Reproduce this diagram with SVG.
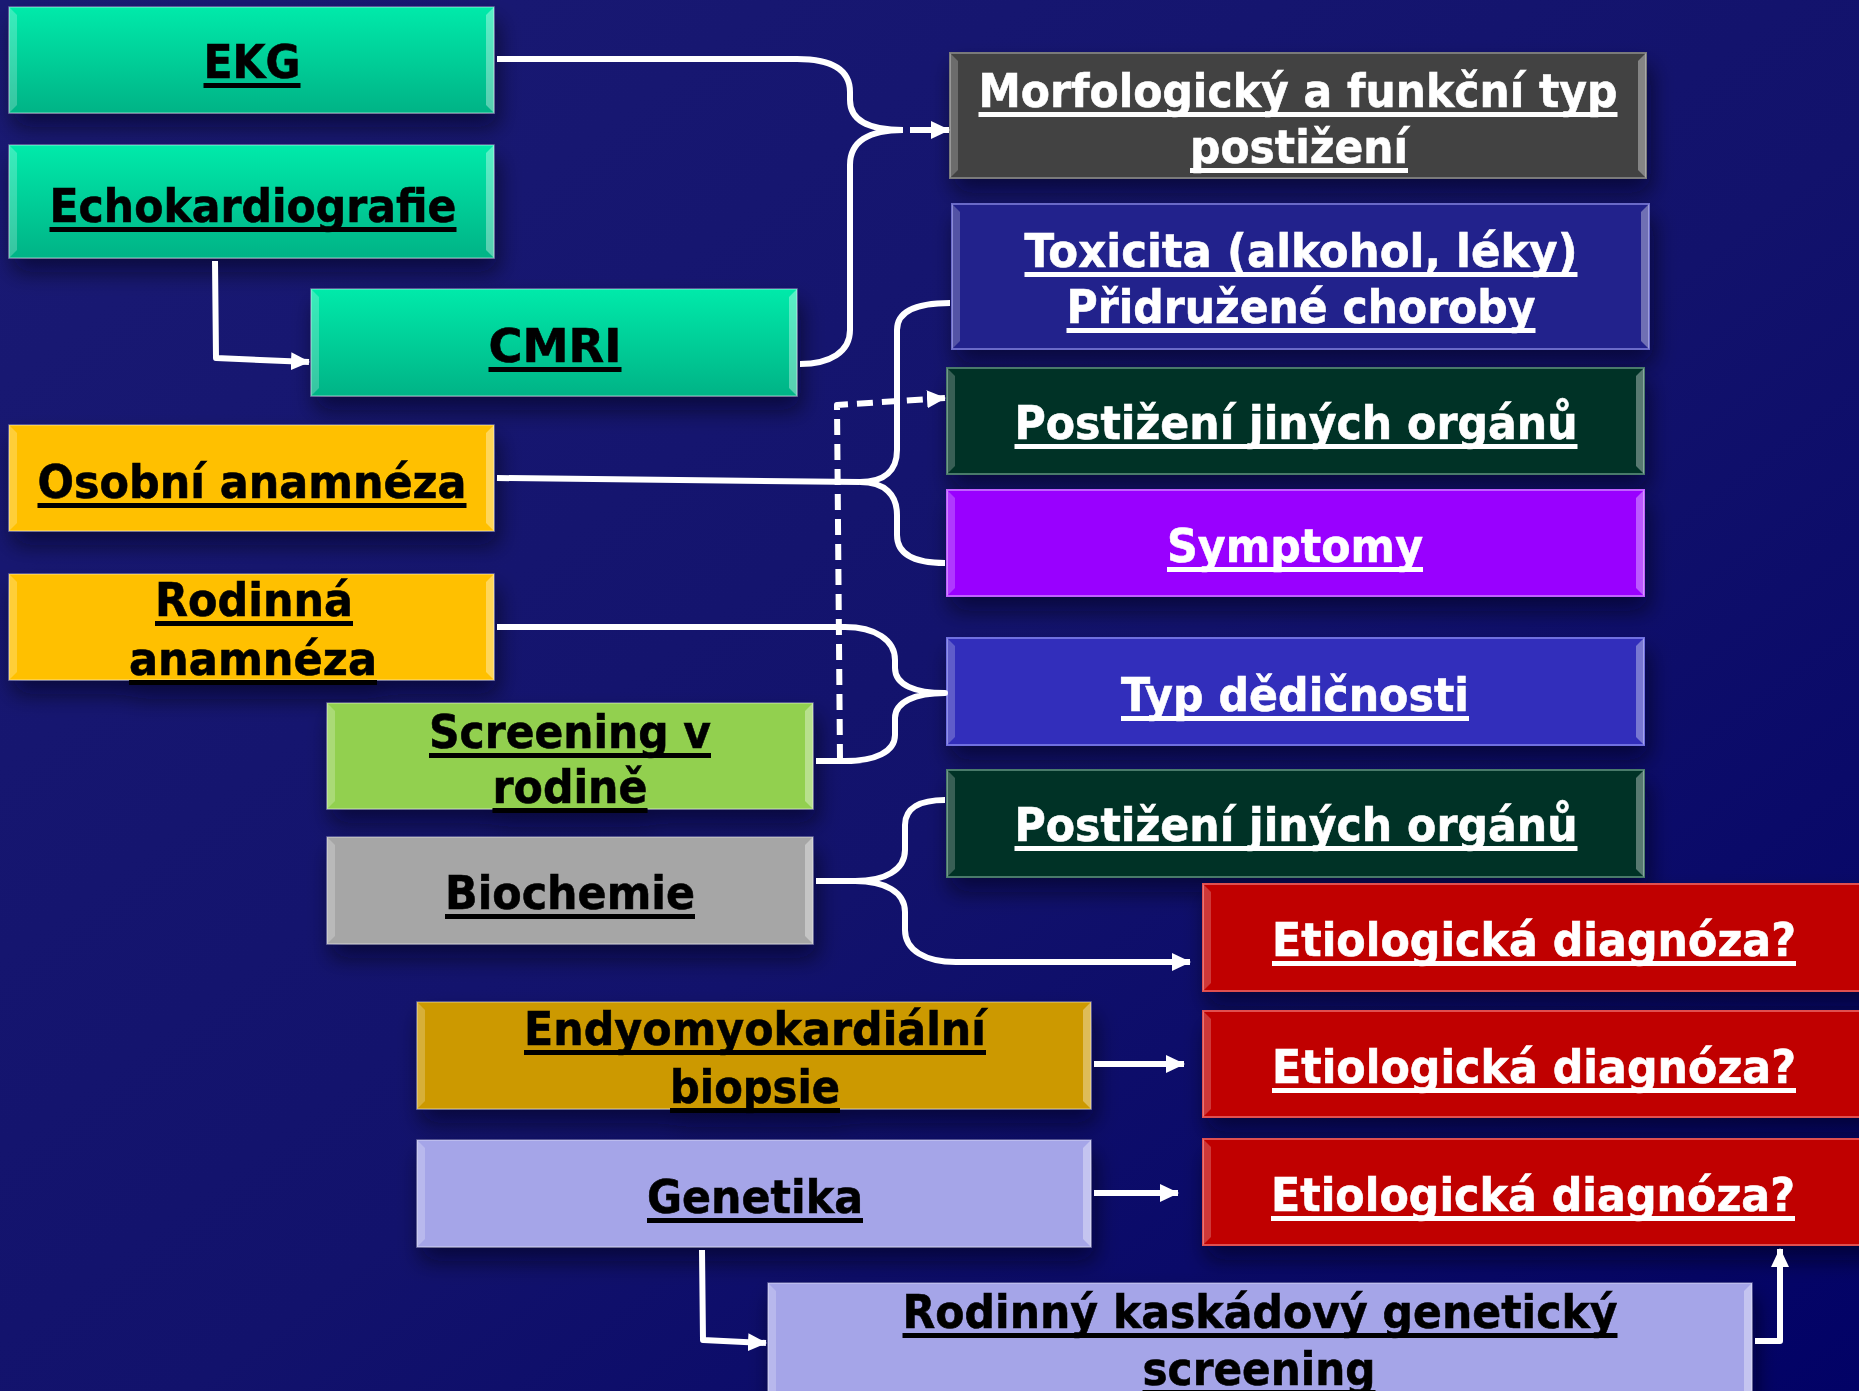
<svg xmlns="http://www.w3.org/2000/svg" width="1859" height="1391" viewBox="0 0 1859 1391">
<defs>
<linearGradient id="bg" x1="0" y1="0" x2="1" y2="1">
<stop offset="0" stop-color="#1a1a74"/>
<stop offset="0.55" stop-color="#12126c"/>
<stop offset="1" stop-color="#020266"/>
</linearGradient>
<linearGradient id="gTeal" x1="0" y1="0" x2="0" y2="1">
<stop offset="0" stop-color="#00eaaa"/>
<stop offset="1" stop-color="#00b386"/>
</linearGradient>
<filter id="sh" x="-10%" y="-20%" width="125%" height="160%">
<feDropShadow dx="4" dy="14" stdDeviation="11" flood-color="#000018" flood-opacity="0.55"/>
</filter>
<marker id="ah" markerUnits="userSpaceOnUse" markerWidth="20" markerHeight="20" refX="18" refY="10" orient="auto">
<path d="M0,1 L19,10 L0,19 z" fill="#ffffff"/>
</marker>
<style>
.box{stroke:rgba(255,255,255,0.35);stroke-width:1.5;}
.bl{fill:#ffffff;fill-opacity:0.22;}
.br{fill:#ffffff;fill-opacity:0.35;}
text{font-family:"DejaVu Sans","Verdana",sans-serif;font-weight:bold;font-size:47px;text-anchor:middle;stroke-width:0.6;}
.tb{fill:#000000;stroke:#000000;}
.tw{fill:#ffffff;stroke:#ffffff;}
.ub{fill:#000000;}
.uw{fill:#ffffff;}
.con{fill:none;stroke:#ffffff;stroke-width:6;stroke-linejoin:round;}
.dash{stroke-dasharray:16 9;}
</style>
</defs>
<rect x="0" y="0" width="1859" height="1391" fill="url(#bg)"/>

<g id="n-ekg" filter="url(#sh)">
<rect class="box" x="9" y="7" width="485" height="106" fill="url(#gTeal)"/>
<polygon class="bl" points="9,7 17,15 17,105 9,113"/>
<polygon class="br" points="494,7 486,15 486,105 494,113"/>
<text class="tb" x="252" y="78" textLength="97" lengthAdjust="spacingAndGlyphs">EKG</text>
<rect class="ub" x="203.5" y="83" width="97" height="5"/>
</g>
<g id="n-echo" filter="url(#sh)">
<rect class="box" x="9" y="145" width="485" height="113" fill="url(#gTeal)"/>
<polygon class="bl" points="9,145 17,153 17,250 9,258"/>
<polygon class="br" points="494,145 486,153 486,250 494,258"/>
<text class="tb" x="253" y="222" textLength="407" lengthAdjust="spacingAndGlyphs">Echokardiografie</text>
<rect class="ub" x="49.5" y="227" width="407" height="5"/>
</g>
<g id="n-cmri" filter="url(#sh)">
<rect class="box" x="311" y="289" width="486" height="107" fill="url(#gTeal)"/>
<polygon class="bl" points="311,289 319,297 319,388 311,396"/>
<polygon class="br" points="797,289 789,297 789,388 797,396"/>
<text class="tb" x="555" y="362" textLength="133" lengthAdjust="spacingAndGlyphs">CMRI</text>
<rect class="ub" x="488.5" y="367" width="133" height="5"/>
</g>
<g id="n-morf" filter="url(#sh)">
<rect class="box" x="950" y="53" width="696" height="125" fill="#434343" style="stroke:#7a7a7a;stroke-width:2"/>
<polygon class="bl" points="950,53 958,61 958,170 950,178"/>
<polygon class="br" points="1646,53 1638,61 1638,170 1646,178"/>
<text class="tw" x="1298" y="107" textLength="639" lengthAdjust="spacingAndGlyphs">Morfologický a funkční typ</text>
<rect class="uw" x="978.5" y="112" width="639" height="5"/>
<text class="tw" x="1299" y="163" textLength="218" lengthAdjust="spacingAndGlyphs">postižení</text>
<rect class="uw" x="1190" y="168" width="218" height="5"/>
</g>
<g id="n-tox" filter="url(#sh)">
<rect class="box" x="952" y="204" width="697" height="145" fill="#23238c" style="stroke:#6a6ac8;stroke-width:2"/>
<polygon class="bl" points="952,204 960,212 960,341 952,349"/>
<polygon class="br" points="1649,204 1641,212 1641,341 1649,349"/>
<text class="tw" x="1301" y="267" textLength="553" lengthAdjust="spacingAndGlyphs">Toxicita (alkohol, léky)</text>
<rect class="uw" x="1024.5" y="272" width="553" height="5"/>
<text class="tw" x="1301" y="323" textLength="469" lengthAdjust="spacingAndGlyphs">Přidružené choroby</text>
<rect class="uw" x="1066.5" y="328" width="469" height="5"/>
</g>
<g id="n-post1" filter="url(#sh)">
<rect class="box" x="947" y="368" width="697" height="106" fill="#003226" style="stroke:#4a7a6a;stroke-width:2"/>
<polygon class="bl" points="947,368 955,376 955,466 947,474"/>
<polygon class="br" points="1644,368 1636,376 1636,466 1644,474"/>
<text class="tw" x="1296" y="439" textLength="563" lengthAdjust="spacingAndGlyphs">Postižení jiných orgánů</text>
<rect class="uw" x="1014.5" y="444" width="563" height="5"/>
</g>
<g id="n-symp" filter="url(#sh)">
<rect class="box" x="947" y="490" width="697" height="106" fill="#9900ff" style="stroke:#c060ff;stroke-width:2"/>
<polygon class="bl" points="947,490 955,498 955,588 947,596"/>
<polygon class="br" points="1644,490 1636,498 1636,588 1644,596"/>
<text class="tw" x="1295" y="562" textLength="256" lengthAdjust="spacingAndGlyphs">Symptomy</text>
<rect class="uw" x="1167" y="567" width="256" height="5"/>
</g>
<g id="n-typ" filter="url(#sh)">
<rect class="box" x="947" y="638" width="697" height="107" fill="#312fbb" style="stroke:#7070e0;stroke-width:2"/>
<polygon class="bl" points="947,638 955,646 955,737 947,745"/>
<polygon class="br" points="1644,638 1636,646 1636,737 1644,745"/>
<text class="tw" x="1295" y="711" textLength="348" lengthAdjust="spacingAndGlyphs">Typ dědičnosti</text>
<rect class="uw" x="1121" y="716" width="348" height="5"/>
</g>
<g id="n-post2" filter="url(#sh)">
<rect class="box" x="947" y="770" width="697" height="107" fill="#003226" style="stroke:#4a7a6a;stroke-width:2"/>
<polygon class="bl" points="947,770 955,778 955,869 947,877"/>
<polygon class="br" points="1644,770 1636,778 1636,869 1644,877"/>
<text class="tw" x="1296" y="841" textLength="563" lengthAdjust="spacingAndGlyphs">Postižení jiných orgánů</text>
<rect class="uw" x="1014.5" y="846" width="563" height="5"/>
</g>
<g id="n-etio1" filter="url(#sh)">
<rect class="box" x="1203" y="884" width="690" height="107" fill="#c00000" style="stroke:#e05050;stroke-width:2"/>
<polygon class="bl" points="1203,884 1211,892 1211,983 1203,991"/>
<text class="tw" x="1534" y="956" textLength="524" lengthAdjust="spacingAndGlyphs">Etiologická diagnóza?</text>
<rect class="uw" x="1272" y="961" width="524" height="5"/>
</g>
<g id="n-etio2" filter="url(#sh)">
<rect class="box" x="1203" y="1011" width="690" height="106" fill="#c00000" style="stroke:#e05050;stroke-width:2"/>
<polygon class="bl" points="1203,1011 1211,1019 1211,1109 1203,1117"/>
<text class="tw" x="1534" y="1083" textLength="524" lengthAdjust="spacingAndGlyphs">Etiologická diagnóza?</text>
<rect class="uw" x="1272" y="1088" width="524" height="5"/>
</g>
<g id="n-etio3" filter="url(#sh)">
<rect class="box" x="1203" y="1139" width="690" height="106" fill="#c00000" style="stroke:#e05050;stroke-width:2"/>
<polygon class="bl" points="1203,1139 1211,1147 1211,1237 1203,1245"/>
<text class="tw" x="1533" y="1211" textLength="524" lengthAdjust="spacingAndGlyphs">Etiologická diagnóza?</text>
<rect class="uw" x="1271" y="1216" width="524" height="5"/>
</g>
<g id="n-osob" filter="url(#sh)">
<rect class="box" x="9" y="425" width="485" height="106" fill="#ffc000"/>
<polygon class="bl" points="9,425 17,433 17,523 9,531"/>
<polygon class="br" points="494,425 486,433 486,523 494,531"/>
<text class="tb" x="252" y="498" textLength="429" lengthAdjust="spacingAndGlyphs">Osobní anamnéza</text>
<rect class="ub" x="37.5" y="503" width="429" height="5"/>
</g>
<g id="n-roda" filter="url(#sh)">
<rect class="box" x="9" y="574" width="485" height="106" fill="#ffc000"/>
<polygon class="bl" points="9,574 17,582 17,672 9,680"/>
<polygon class="br" points="494,574 486,582 486,672 494,680"/>
<text class="tb" x="254" y="616" textLength="198" lengthAdjust="spacingAndGlyphs">Rodinná</text>
<rect class="ub" x="155" y="621" width="198" height="5"/>
<text class="tb" x="253" y="675" textLength="248" lengthAdjust="spacingAndGlyphs">anamnéza</text>
<rect class="ub" x="129" y="680" width="248" height="5"/>
</g>
<g id="n-scr" filter="url(#sh)">
<rect class="box" x="327" y="703" width="486" height="106" fill="#92d050"/>
<polygon class="bl" points="327,703 335,711 335,801 327,809"/>
<polygon class="br" points="813,703 805,711 805,801 813,809"/>
<text class="tb" x="570" y="748" textLength="282" lengthAdjust="spacingAndGlyphs">Screening v</text>
<rect class="ub" x="429" y="753" width="282" height="5"/>
<text class="tb" x="570" y="803" textLength="155" lengthAdjust="spacingAndGlyphs">rodině</text>
<rect class="ub" x="492.5" y="808" width="155" height="5"/>
</g>
<g id="n-bio" filter="url(#sh)">
<rect class="box" x="327" y="837" width="486" height="107" fill="#a6a6a6"/>
<polygon class="bl" points="327,837 335,845 335,936 327,944"/>
<polygon class="br" points="813,837 805,845 805,936 813,944"/>
<text class="tb" x="570" y="909" textLength="250" lengthAdjust="spacingAndGlyphs">Biochemie</text>
<rect class="ub" x="445" y="914" width="250" height="5"/>
</g>
<g id="n-endo" filter="url(#sh)">
<rect class="box" x="417" y="1002" width="674" height="107" fill="#cc9900"/>
<polygon class="bl" points="417,1002 425,1010 425,1101 417,1109"/>
<polygon class="br" points="1091,1002 1083,1010 1083,1101 1091,1109"/>
<text class="tb" x="755" y="1045" textLength="462" lengthAdjust="spacingAndGlyphs">Endyomyokardiální</text>
<rect class="ub" x="524" y="1050" width="462" height="5"/>
<text class="tb" x="755" y="1103" textLength="170" lengthAdjust="spacingAndGlyphs">biopsie</text>
<rect class="ub" x="670" y="1108" width="170" height="5"/>
</g>
<g id="n-gen" filter="url(#sh)">
<rect class="box" x="417" y="1140" width="674" height="107" fill="#a5a5e8"/>
<polygon class="bl" points="417,1140 425,1148 425,1239 417,1247"/>
<polygon class="br" points="1091,1140 1083,1148 1083,1239 1091,1247"/>
<text class="tb" x="755" y="1213" textLength="216" lengthAdjust="spacingAndGlyphs">Genetika</text>
<rect class="ub" x="647" y="1218" width="216" height="5"/>
</g>
<g id="n-rodk" filter="url(#sh)">
<rect class="box" x="768" y="1283" width="984" height="125" fill="#a5a5e8"/>
<polygon class="bl" points="768,1283 776,1291 776,1400 768,1408"/>
<polygon class="br" points="1752,1283 1744,1291 1744,1400 1752,1408"/>
<text class="tb" x="1260" y="1328" textLength="715" lengthAdjust="spacingAndGlyphs">Rodinný kaskádový genetický</text>
<rect class="ub" x="902.5" y="1333" width="715" height="5"/>
<text class="tb" x="1259" y="1385" textLength="233" lengthAdjust="spacingAndGlyphs">screening</text>
<rect class="ub" x="1142.5" y="1390" width="233" height="5"/>
</g>

<g id="connectors">
<path class="con" d="M497,59 L797,59 C835,59 850,72 850,92 L850,100 C850,120 868,130 903,130"/>
<path class="con" d="M903,130 C868,130 850,142 850,165 L850,330 C850,352 830,364 800,364"/>
<path class="con" d="M910,130 L949,130" marker-end="url(#ah)"/>
<path class="con" d="M215,261 L216,358 L309,362" marker-end="url(#ah)"/>
<path class="con" d="M497,478 L860,482"/>
<path class="con" d="M860,482 C885,482 897,470 897,450 L897,330 C897,312 915,303 950,303"/>
<path class="con" d="M860,482 C885,482 897,495 897,515 L897,535 C897,555 915,563 945,563"/>
<path class="con" d="M497,627 L845,627 C875,627 895,640 895,660 L895,668 C895,685 915,693 945,693 C915,693 895,702 895,718 L895,735 C895,752 875,761 845,761 L816,761"/>
<path class="con dash" d="M840,760 L837,405 L945,398" marker-end="url(#ah)"/>
<path class="con" d="M816,881 L855,881 C885,881 905,870 905,850 L905,825 C905,808 920,800 945,800"/>
<path class="con" d="M855,881 C885,881 905,892 905,912 L905,930 C905,950 925,962 956,962 L1190,962" marker-end="url(#ah)"/>
<path class="con" d="M1094,1064 L1184,1064" marker-end="url(#ah)"/>
<path class="con" d="M1094,1193 L1178,1193" marker-end="url(#ah)"/>
<path class="con" d="M702,1250 L703,1340 L766,1343" marker-end="url(#ah)"/>
<path class="con" d="M1755,1341 L1780,1341 L1780,1249" marker-end="url(#ah)"/>
</g>
</svg>
